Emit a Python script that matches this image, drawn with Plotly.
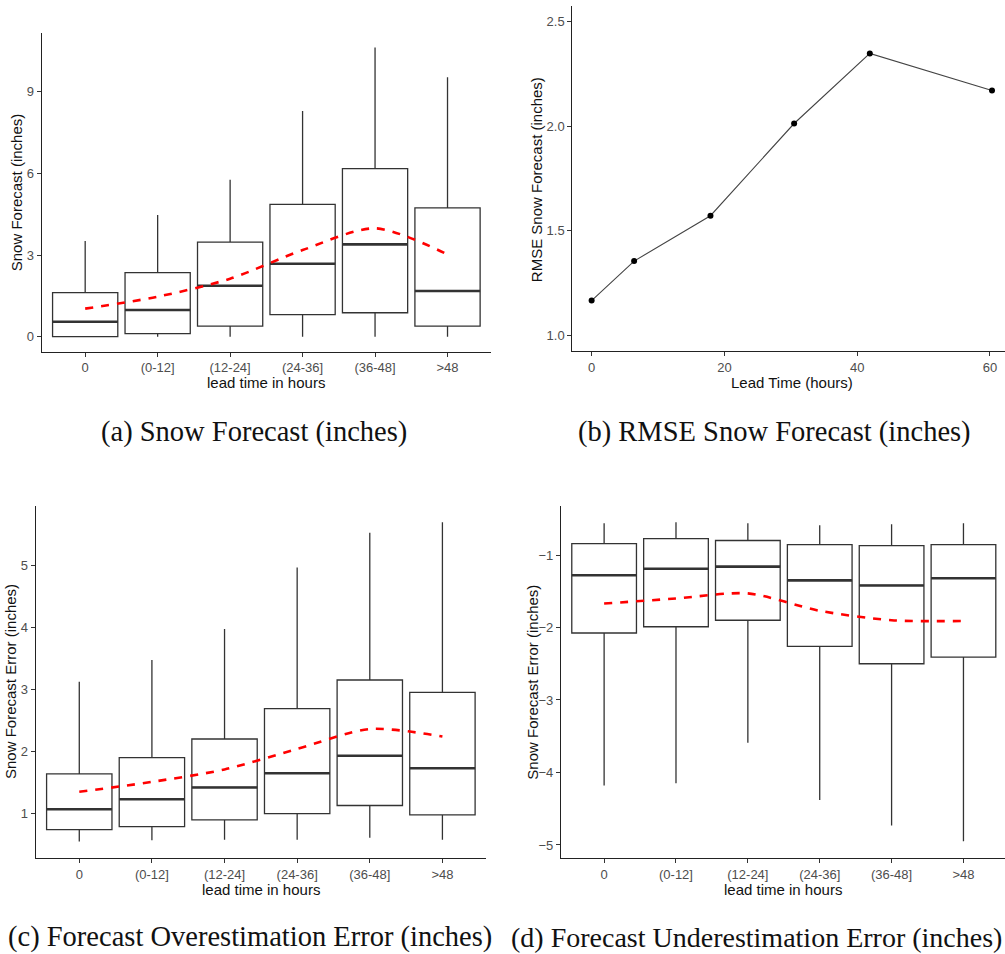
import plotly.graph_objects as go

# ---------------- data ----------------
categories = ["0", "(0-12]", "(12-24]", "(24-36]", "(36-48]", ">48"]

# (a) Snow forecast (inches)
a_low = [0.0, 0.0, 0.0, 0.0, 0.0, 0.0]
a_q1 = [0.0, 0.11, 0.39, 0.81, 0.88, 0.39]
a_med = [0.55, 0.98, 1.87, 2.68, 3.39, 1.68]
a_q3 = [1.62, 2.35, 3.47, 4.86, 6.17, 4.73]
a_high = [3.51, 4.47, 5.76, 8.29, 10.62, 9.53]
a_mean = [1.03, 1.47, 2.13, 3.18, 3.98, 3.02]

# (b) RMSE snow forecast vs lead time
b_lead = [0, 6.4, 17.9, 30.5, 41.9, 60.3]
b_rmse = [1.166, 1.355, 1.572, 2.013, 2.348, 2.171]

# (c) Overestimation error
c_low = [0.55, 0.57, 0.58, 0.58, 0.61, 0.58]
c_q1 = [0.74, 0.79, 0.90, 1.00, 1.13, 0.98]
c_med = [1.07, 1.23, 1.42, 1.65, 1.93, 1.73]
c_q3 = [1.64, 1.90, 2.20, 2.69, 3.15, 2.95]
c_high = [3.12, 3.47, 3.97, 4.96, 5.52, 5.69]
c_mean = [1.35, 1.51, 1.71, 2.04, 2.36, 2.24]

# (d) Underestimation error
d_low = [-4.18, -4.15, -3.59, -4.38, -4.73, -4.95]
d_q1 = [-2.076, -1.99, -1.90, -2.26, -2.50, -2.41]
d_med = [-1.28, -1.19, -1.16, -1.35, -1.42, -1.32]
d_q3 = [-0.844, -0.775, -0.80, -0.857, -0.871, -0.857]
d_high = [-0.563, -0.549, -0.563, -0.59, -0.577, -0.563]
d_mean = [-1.67, -1.60, -1.53, -1.77, -1.90, -1.91]

captions = [
    "(a) Snow Forecast (inches)",
    "(b) RMSE Snow Forecast (inches)",
    "(c) Forecast Overestimation Error (inches)",
    "(d) Forecast Underestimation Error (inches)",
]

# ---------------- layout helpers ----------------
W, H = 1005, 954
SANS = "Liberation Sans, Arial, sans-serif"
SERIF = "Liberation Serif, Times New Roman, serif"
BOXW = 0.9
idx = list(range(len(categories)))


def fx(px):
    return px / W


def fy(py):
    return 1 - py / H


fig = go.Figure()


def add_box_panel(xa, ya, low, q1, med, q3, high, mean):
    fig.add_trace(go.Box(
        x=idx, lowerfence=low, q1=q1, median=med, q3=q3, upperfence=high,
        width=BOXW, whiskerwidth=0, boxpoints=False,
        fillcolor="white", line=dict(color="#333333", width=1.3),
        xaxis=xa, yaxis=ya, showlegend=False, hoverinfo="skip",
    ))
    mx, my = [], []
    for i, m in zip(idx, med):
        mx += [i - BOXW / 2, i + BOXW / 2, None]
        my += [m, m, None]
    fig.add_trace(go.Scatter(
        x=mx, y=my, mode="lines", line=dict(color="#333333", width=2.6),
        xaxis=xa, yaxis=ya, showlegend=False, hoverinfo="skip",
    ))
    fig.add_trace(go.Scatter(
        x=idx, y=mean, mode="lines",
        line=dict(color="#FF0000", width=2.6, dash="8px,8px", shape="spline", smoothing=0.8),
        xaxis=xa, yaxis=ya, showlegend=False, hoverinfo="skip",
    ))


add_box_panel("x", "y", a_low, a_q1, a_med, a_q3, a_high, a_mean)

fig.add_trace(go.Scatter(
    x=b_lead, y=b_rmse, mode="lines+markers",
    line=dict(color="#444444", width=1.1),
    marker=dict(color="black", size=6),
    xaxis="x2", yaxis="y2", showlegend=False,
))

add_box_panel("x3", "y3", c_low, c_q1, c_med, c_q3, c_high, c_mean)
add_box_panel("x4", "y4", d_low, d_q1, d_med, d_q3, d_high, d_mean)

axis_common = dict(
    showgrid=False, zeroline=False, showline=True, linecolor="#222222", linewidth=1.1,
    ticks="outside", ticklen=4, tickwidth=1, tickcolor="#333333",
    tickfont=dict(family=SANS, size=13, color="#4D4D4D"),
    automargin=False, fixedrange=True,
)

cat_axis = dict(axis_common, tickmode="array", tickvals=idx, ticktext=categories)

fig.update_layout(
    width=W, height=H,
    margin=dict(l=0, r=0, t=0, b=0),
    paper_bgcolor="white", plot_bgcolor="white",
    template="none",
    showlegend=False,
    # (a)
    xaxis=dict(cat_axis, domain=[fx(41.7), fx(491)], range=[-0.6, 5.6], anchor="y"),
    yaxis=dict(axis_common, domain=[fy(351.7), fy(33)], range=[-0.55, 11.15],
               tickvals=[0, 3, 6, 9], anchor="x"),
    # (b)
    xaxis2=dict(axis_common, domain=[fx(572.3), 1.0], range=[-2.91, 62.26],
                tickvals=[0, 20, 40, 60], anchor="y2"),
    yaxis2=dict(axis_common, domain=[fy(351), fy(6)], range=[0.925, 2.575],
                tickvals=[1.0, 1.5, 2.0, 2.5], tickformat=".1f", anchor="x2"),
    # (c)
    xaxis3=dict(cat_axis, domain=[fx(35.7), fx(486)], range=[-0.6, 5.6], anchor="y3"),
    yaxis3=dict(axis_common, domain=[fy(858.3), fy(506)], range=[0.28, 5.95],
                tickvals=[1, 2, 3, 4, 5], anchor="x3"),
    # (d)
    xaxis4=dict(cat_axis, domain=[fx(561), 1.0], range=[-0.6, 5.578], anchor="y4"),
    yaxis4=dict(axis_common, domain=[fy(858.3), fy(506)], range=[-5.184, -0.324],
                tickvals=[-1, -2, -3, -4, -5], anchor="x4"),
)

title_font = dict(family=SANS, size=15, color="#111111")
annots = [
    # x-axis titles
    dict(text="lead time in hours", x=fx(266), y=fy(383)),
    dict(text="Lead Time (hours)", x=fx(791.7), y=fy(383)),
    dict(text="lead time in hours", x=fx(260.8), y=fy(889)),
    dict(text="lead time in hours", x=fx(782.7), y=fy(889)),
    # y-axis titles
    dict(text="Snow Forecast (inches)", x=fx(16), y=fy(192.3), textangle=-90),
    dict(text="RMSE Snow Forecast (inches)", x=fx(536.7), y=fy(179.5), textangle=-90),
    dict(text="Snow Forecast Error (inches)", x=fx(10), y=fy(682), textangle=-90),
    dict(text="Snow Forecast Error (inches)", x=fx(531.7), y=fy(682), textangle=-90),
]
for a in annots:
    fig.add_annotation(xref="paper", yref="paper", showarrow=False,
                       xanchor="center", yanchor="middle", font=title_font, **a)

cap_font = dict(family=SERIF, size=28.5, color="#111111")
cap_font_d = dict(family=SERIF, size=28, color="#111111")
fig.add_annotation(text=captions[0], x=fx(254), y=fy(432), xref="paper", yref="paper",
                   showarrow=False, xanchor="center", yanchor="middle", font=cap_font)
fig.add_annotation(text=captions[1], x=fx(774.5), y=fy(432), xref="paper", yref="paper",
                   showarrow=False, xanchor="center", yanchor="middle", font=cap_font)
fig.add_annotation(text=captions[2], x=fx(250), y=fy(937), xref="paper", yref="paper",
                   showarrow=False, xanchor="center", yanchor="middle", font=cap_font)
fig.add_annotation(text=captions[3], x=fx(509), y=fy(937), xref="paper", yref="paper",
                   showarrow=False, xanchor="left", yanchor="middle", font=cap_font_d)

fig.write_html("out.html", config={"displayModeBar": False},
               post_script="document.body.style.margin='0';document.body.style.overflow='hidden';")
